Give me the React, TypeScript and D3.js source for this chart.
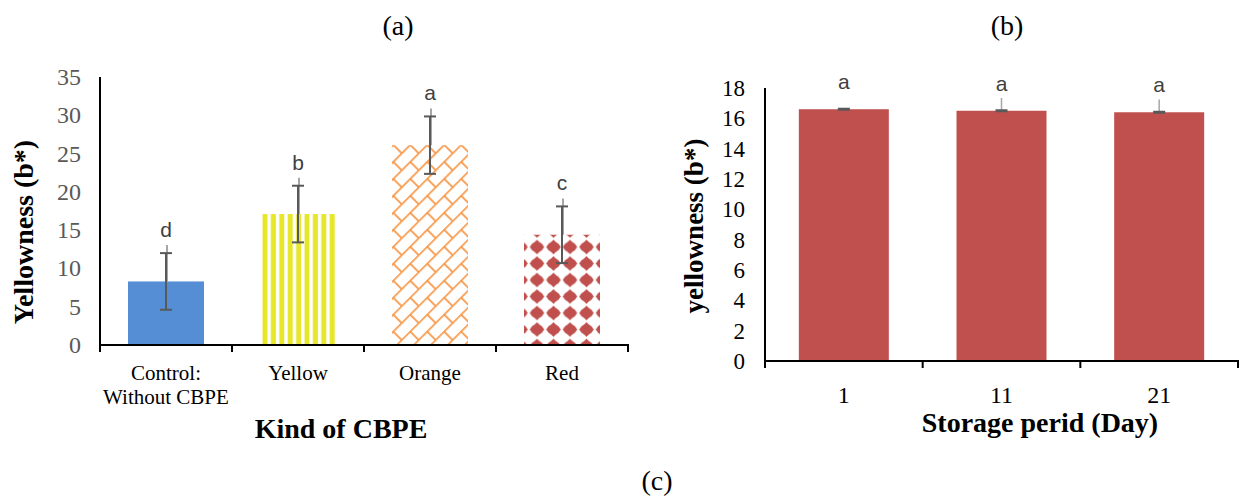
import * as d3 from "d3";

// (a) Kind of CBPE
const kinds = ["Control:\nWithout CBPE", "Yellow", "Orange", "Red"];
const kindValues = [8.3, 17.1, 26.1, 14.4];
const kindErrors = [3.7, 3.7, 3.75, 3.7];
const kindLetters = ["d", "b", "a", "c"];
const leftTicks = [0, 5, 10, 15, 20, 25, 30, 35];

// (b) Storage period
const days = ["1", "11", "21"];
const dayValues = [16.6, 16.5, 16.4];
const dayErrors = [0.05, 0.05, 0.05];
const dayLetters = ["a", "a", "a"];
const rightTicks = [0, 2, 4, 6, 8, 10, 12, 14, 16, 18];

const serif = "'Liberation Serif', 'Times New Roman', serif";
const sans = "'Liberation Sans', Arial, sans-serif";

export default function App() {
  // left panel
  const lx = d3.scaleBand<string>().domain(kinds).range([100, 628]);
  const ly = d3.scaleLinear().domain([0, 35]).range([345, 77]);
  const lbw = 76;
  const fills = ["#558ED5", "url(#stripes)", "url(#brick)", "url(#diamonds)"];

  // right panel
  const rx = d3.scaleBand<string>().domain(days).range([765, 1238]);
  const ry = d3.scaleLinear().domain([0, 18]).range([361, 88]);
  const rbw = 90;

  return (
    <svg width={1245} height={496} style={{ position: "absolute", left: 0, top: 0, background: "#fff" }}>
      <defs>
        <pattern id="stripes" patternUnits="userSpaceOnUse" width={8.4} height={10} x={260}>
          <rect width={8.4} height={10} fill="#fff" />
          <rect x={2.5} width={5} height={10} fill="#E6E62A" />
        </pattern>
        <pattern
          id="brick"
          patternUnits="userSpaceOnUse"
          width={24}
          height={24}
          patternTransform="translate(392,145) rotate(-45)"
        >
          <rect width={24} height={24} fill="#fff" />
          <g stroke="#F79646" strokeWidth={1.7} fill="none">
            <line x1={0} y1={0.8} x2={24} y2={0.8} />
            <line x1={0} y1={12.8} x2={24} y2={12.8} />
            <line x1={1} y1={0} x2={1} y2={12.8} />
            <line x1={13} y1={12.8} x2={13} y2={24} />
          </g>
        </pattern>
        <pattern id="diamonds" patternUnits="userSpaceOnUse" width={16.5} height={16.5} x={528.75} y={238.75}>
          <rect width={16.5} height={16.5} fill="#fff" />
          <path
            d="M8.25,1 L10.5,3.2 L13.3,5.2 L15.5,8.25 L13.3,11.3 L10.5,13.3 L8.25,15.5 L6,13.3 L3.2,11.3 L1,8.25 L3.2,5.2 L6,3.2 Z"
            fill="#C0504D"
          />
        </pattern>
      </defs>

      {/* titles */}
      <text x={398} y={35} textAnchor="middle" fontFamily={serif} fontSize={28}>(a)</text>
      <text x={1007} y={35} textAnchor="middle" fontFamily={serif} fontSize={28}>(b)</text>
      <text x={657} y={490} textAnchor="middle" fontFamily={serif} fontSize={28}>(c)</text>

      {/* ---------- left panel ---------- */}
      {leftTicks.map((t) => (
        <text key={t} x={81} y={ly(t) + 8} textAnchor="end" fontFamily={serif} fontSize={24} fill="#595959">
          {t}
        </text>
      ))}
      {kinds.map((k, i) => {
        const cx = (lx(k) || 0) + lx.bandwidth() / 2;
        const v = kindValues[i];
        const e = kindErrors[i];
        return (
          <g key={k}>
            <rect x={cx - lbw / 2} y={ly(v)} width={lbw} height={ly(0) - ly(v)} fill={fills[i]} />
            <line x1={cx + 1} x2={cx + 1} y1={ly(v)} y2={ly(v + e) - 8} stroke="#A6A6A6" strokeWidth={2} />
            <line x1={cx} x2={cx} y1={ly(v - e)} y2={ly(v + e)} stroke="#595959" strokeWidth={2} />
            <line x1={cx - 6} x2={cx + 6} y1={ly(v + e)} y2={ly(v + e)} stroke="#595959" strokeWidth={2} />
            <line x1={cx - 6} x2={cx + 6} y1={ly(v - e)} y2={ly(v - e)} stroke="#595959" strokeWidth={2} />
            <text x={cx} y={ly(v + e) - 16} textAnchor="middle" fontFamily={sans} fontSize={21} fill="#404040">
              {kindLetters[i]}
            </text>
            {k.split("\n").map((line, j) => (
              <text key={j} x={cx} y={380 + j * 24} textAnchor="middle" fontFamily={serif} fontSize={21}>
                {line}
              </text>
            ))}
          </g>
        );
      })}
      <line x1={100} x2={100} y1={77} y2={346} stroke="#000" strokeWidth={2} />
      <line x1={99} x2={629} y1={345} y2={345} stroke="#000" strokeWidth={2} />
      {[...kinds.map((k) => lx(k) || 0), 628].map((t, i) => (
        <line key={i} x1={t} x2={t} y1={345} y2={352} stroke="#000" strokeWidth={2} />
      ))}
      <text
        transform="translate(33,232) rotate(-90)"
        textAnchor="middle"
        fontFamily={serif}
        fontWeight="bold"
        fontSize={28}
      >
        Yellowness (b*)
      </text>
      <text x={341} y={438} textAnchor="middle" fontFamily={serif} fontWeight="bold" fontSize={28}>
        Kind of CBPE
      </text>

      {/* ---------- right panel ---------- */}
      {rightTicks.map((t) => (
        <text key={t} x={745} y={ry(t) + 8} textAnchor="end" fontFamily={serif} fontSize={23} fill="#000">
          {t}
        </text>
      ))}
      {days.map((d, i) => {
        const cx = (rx(d) || 0) + rx.bandwidth() / 2;
        const v = dayValues[i];
        const e = dayErrors[i];
        return (
          <g key={d}>
            <rect x={cx - rbw / 2} y={ry(v)} width={rbw} height={ry(0) - ry(v)} fill="#C0504D" />
            {i > 0 && (
              <line x1={cx} x2={cx} y1={ry(v + e)} y2={ry(v + e) - 12} stroke="#A6A6A6" strokeWidth={1.5} />
            )}
            <line x1={cx - 6} x2={cx + 6} y1={ry(v)} y2={ry(v)} stroke="#595959" strokeWidth={3} />
            <text x={cx} y={ry(v) - 20} textAnchor="middle" fontFamily={sans} fontSize={21} fill="#404040">
              {dayLetters[i]}
            </text>
            <text x={cx} y={403} textAnchor="middle" fontFamily={serif} fontSize={24}>
              {d}
            </text>
          </g>
        );
      })}
      <line x1={765} x2={765} y1={88} y2={362} stroke="#000" strokeWidth={2} />
      <line x1={764} x2={1239} y1={361} y2={361} stroke="#000" strokeWidth={2} />
      {[...days.map((d) => rx(d) || 0), 1238].map((t, i) => (
        <line key={i} x1={t} x2={t} y1={361} y2={368} stroke="#000" strokeWidth={2} />
      ))}
      <text
        transform="translate(703,226) rotate(-90)"
        textAnchor="middle"
        fontFamily={serif}
        fontWeight="bold"
        fontSize={27}
      >
        yellowness (b*)
      </text>
      <text x={1040} y={432} textAnchor="middle" fontFamily={serif} fontWeight="bold" fontSize={28}>
        Storage perid (Day)
      </text>
    </svg>
  );
}
